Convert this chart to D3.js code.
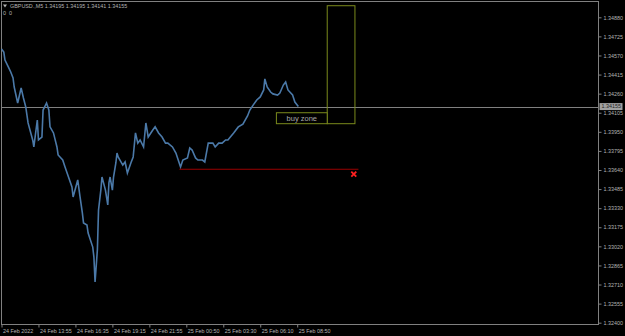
<!DOCTYPE html>
<html lang="en">
<head>
<meta charset="UTF-8">
<title>GBPUSD.,M5</title>
<script src="https://d3js.org/d3.v7.min.js"></script>
<style>
  body { margin: 0; background: #000; }
  svg { display: block; font-family: "Liberation Sans", Arial, sans-serif; }
</style>
</head>
<body>
<div id="chart"></div>
<script>
// M5 bar number (counted from the left edge) and the price
const bars = [0, 2, 3, 6, 8, 10, 11, 14, 17, 19, 21, 23, 27, 28, 31, 32, 35, 36, 39, 41,
  42, 45, 48, 49, 53, 55, 58, 61, 62, 66, 68, 70, 71, 74, 75, 79, 80, 81, 83, 84,
  86, 87, 90, 92, 93, 94, 96, 97, 99, 100, 101, 105, 107, 109, 112, 114, 116, 118, 120, 123,
  125, 127, 131, 133, 136, 139, 142, 144, 148, 151, 153, 155, 157, 161, 163, 165, 168, 170, 174, 176,
  179, 183, 185, 188, 191, 194, 196, 201, 205, 209, 213, 215, 218, 221, 224, 227, 228, 230, 233, 235,
  239, 241, 244, 246, 248, 252, 254, 257];
const closes = [1.34623, 1.34598, 1.34533, 1.34476, 1.34436, 1.34387, 1.34314, 1.34184, 1.34306, 1.34225,
  1.34152, 1.34022, 1.33884, 1.33827, 1.34046, 1.33884, 1.33908, 1.34127, 1.34184, 1.34127,
  1.33991, 1.33941, 1.33827, 1.33762, 1.33721, 1.33664, 1.33583, 1.33502, 1.33421, 1.33559,
  1.33421, 1.33291, 1.33210, 1.33193, 1.33128, 1.33014, 1.32933, 1.32730, 1.32990, 1.33315,
  1.33477, 1.33583, 1.33477, 1.33356, 1.33535, 1.33583, 1.33477, 1.33583, 1.33697, 1.33778,
  1.33746, 1.33680, 1.33705, 1.33616, 1.33697, 1.33746, 1.33941, 1.33858, 1.33884, 1.33827,
  1.34022, 1.33908, 1.33965, 1.33991, 1.33941, 1.33908, 1.33858, 1.33858, 1.33827, 1.33778,
  1.33721, 1.33664, 1.33721, 1.33738, 1.33819, 1.33802, 1.33738, 1.33721, 1.33721, 1.33705,
  1.33858, 1.33858, 1.33827, 1.33858, 1.33858, 1.33884, 1.33884, 1.33941, 1.33990, 1.34013,
  1.34079, 1.34127, 1.34169, 1.34209, 1.34233, 1.34290, 1.34380, 1.34314, 1.34273, 1.34258,
  1.34249, 1.34265, 1.34330, 1.34355, 1.34290, 1.34249, 1.34192, 1.34155];

const priceTicks = [1.34880, 1.34725, 1.34570, 1.34415, 1.34260, 1.34105, 1.33950, 1.33795,
  1.33640, 1.33485, 1.33330, 1.33175, 1.33020, 1.32865, 1.32710, 1.32555, 1.32400];
const timeTickBars = [0, 32, 64, 96, 128, 160, 192, 224, 256];
const timeLabels = ["24 Feb 2022", "24 Feb 13:55", "24 Feb 16:35", "24 Feb 19:15", "24 Feb 21:55",
  "25 Feb 00:50", "25 Feb 03:30", "25 Feb 06:10", "25 Feb 08:50"];

const symbolName = "GBPUSD.,M5";
const ohlc = [1.34195, 1.34195, 1.34141, 1.34155];
const bid = 1.34155;

// objects drawn on the chart (bar range, price range)
const tallBox = { bar0: 282, bar1: 306, top: 1.34974, bottom: 1.34016 };
const buyZone = { bar0: 238, bar1: 282, top: 1.34105, bottom: 1.34016, label: "buy zone" };
const stopLine = { bar0: 154, bar1: 309, price: 1.33646 };
const stopMark = { bar: 305, price: 1.33607 };

const W = 625, H = 336;
const right = 598.5, bottom = 324.5;

const svg = d3.select("#chart").append("svg")
  .attr("width", W).attr("height", H)
  .style("background", "#000");

const x = d3.scaleLinear().domain([0, 516]).range([1.5, 597.5]);
const y = d3.scaleLinear().domain([1.32400, 1.34880]).range([322.7, 17.3]);

const grey = "#808080";
const olive = "#7b8a1c";

// frame
svg.append("rect")
  .attr("x", 1.5).attr("y", 1.5)
  .attr("width", right - 1.5).attr("height", bottom - 1.5)
  .attr("fill", "none").attr("stroke", grey);

// price axis
const yAxis = svg.append("g")
  .attr("transform", `translate(${right},0)`)
  .call(d3.axisRight(y).tickValues(priceTicks).tickSize(3).tickPadding(2)
    .tickFormat(d3.format(".5f")));
yAxis.select(".domain").remove();
yAxis.selectAll("line").attr("stroke", grey);
yAxis.selectAll("text").attr("fill", "#b4b4b4").style("font-size", "5.4px");

// time axis
const xAxis = svg.append("g")
  .attr("transform", `translate(0,${bottom})`)
  .call(d3.axisBottom(x).tickValues(timeTickBars).tickSize(3).tickPadding(2)
    .tickFormat((d, i) => timeLabels[i]));
xAxis.select(".domain").remove();
xAxis.selectAll("line").attr("stroke", grey);
xAxis.selectAll("text").attr("fill", "#b4b4b4").style("font-size", "5.4px")
  .attr("text-anchor", "start").attr("dx", 1);

// bid line
svg.append("line")
  .attr("x1", 1.5).attr("x2", right)
  .attr("y1", Math.round(y(bid)) + 0.5).attr("y2", Math.round(y(bid)) + 0.5)
  .attr("stroke", grey);

// price series
const line = d3.line()
  .x((d, i) => x(bars[i]))
  .y(d => y(d));
svg.append("path")
  .datum(closes)
  .attr("d", line)
  .attr("fill", "none")
  .attr("stroke", "#4b79a8")
  .attr("stroke-width", 1.6)
  .attr("stroke-linejoin", "miter");

// zone boxes
svg.append("rect")
  .attr("x", x(tallBox.bar0)).attr("y", y(tallBox.top))
  .attr("width", x(tallBox.bar1) - x(tallBox.bar0))
  .attr("height", y(tallBox.bottom) - y(tallBox.top))
  .attr("fill", "none").attr("stroke", olive).attr("stroke-width", 1);

svg.append("rect")
  .attr("x", x(buyZone.bar0)).attr("y", y(buyZone.top))
  .attr("width", x(buyZone.bar1) - x(buyZone.bar0))
  .attr("height", y(buyZone.bottom) - y(buyZone.top))
  .attr("fill", "#000").attr("stroke", olive).attr("stroke-width", 1);

svg.append("text")
  .attr("x", (x(buyZone.bar0) + x(buyZone.bar1)) / 2)
  .attr("y", (y(buyZone.top) + y(buyZone.bottom)) / 2)
  .attr("dy", "0.35em")
  .attr("text-anchor", "middle")
  .attr("fill", "#a8a8a8")
  .style("font-size", "7.5px")
  .text(buyZone.label);

// stop line and cross
svg.append("line")
  .attr("x1", x(stopLine.bar0)).attr("x2", x(stopLine.bar1))
  .attr("y1", y(stopLine.price)).attr("y2", y(stopLine.price))
  .attr("stroke", "#9a0000").attr("stroke-width", 1);

const cx = x(stopMark.bar), cy = y(stopMark.price);
svg.append("path")
  .attr("d", `M${cx - 2.5},${cy - 2.5}L${cx + 2.5},${cy + 2.5}M${cx - 2.5},${cy + 2.5}L${cx + 2.5},${cy - 2.5}`)
  .attr("stroke", "#ff2020").attr("stroke-width", 1.8);

// bid price label
const by = y(bid);
svg.append("rect")
  .attr("x", right + 1).attr("y", by - 3.5)
  .attr("width", 23).attr("height", 7)
  .attr("fill", "#a0a0a0");
svg.append("text")
  .attr("x", right + 3).attr("y", by)
  .attr("dy", "0.35em")
  .attr("fill", "#222")
  .style("font-size", "5.4px")
  .text(d3.format(".5f")(bid));

// header
svg.append("path")
  .attr("d", "M3,4.5L7,4.5L5,7.5Z")
  .attr("fill", "#b4b4b4");
svg.append("text")
  .attr("x", 10).attr("y", 8)
  .attr("fill", "#b4b4b4")
  .style("font-size", "5.4px")
  .text(symbolName + "  " + ohlc.map(d3.format(".5f")).join(" "));
svg.append("text")
  .attr("x", 3).attr("y", 15)
  .attr("fill", "#b4b4b4")
  .style("font-size", "5.4px")
  .attr("xml:space", "preserve")
  .text("0  0");
</script>
</body>
</html>
